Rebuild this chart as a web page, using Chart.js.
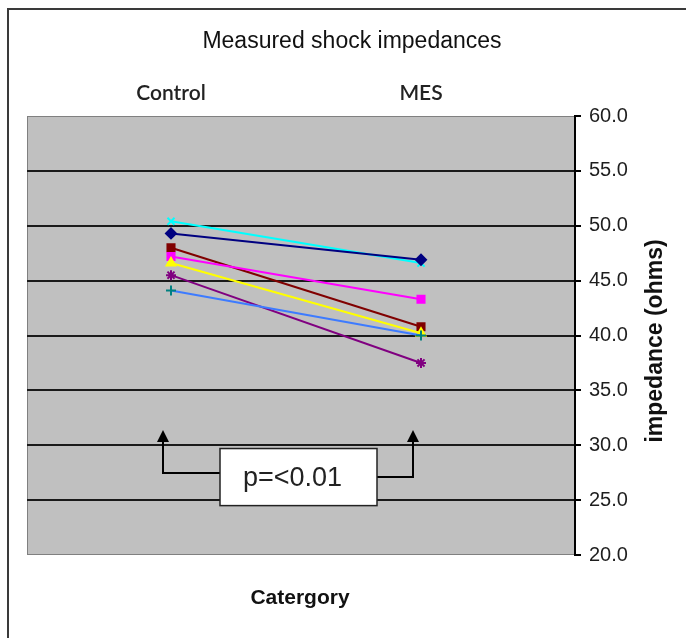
<!DOCTYPE html>
<html>
<head>
<meta charset="utf-8">
<script src="https://cdn.jsdelivr.net/npm/chart.js@4/dist/chart.umd.min.js"></script>
<style>
  html, body { margin: 0; padding: 0; background: #fff; overflow: hidden; }
  #wrap { position: relative; width: 686px; height: 638px; }
  #frame { position: absolute; left: 7px; top: 8px; width: 700px; height: 660px;
           border-left: 2px solid #3a3a3a; border-top: 2px solid #3a3a3a; }
  canvas { position: absolute; left: 0; top: 0; }
</style>
</head>
<body>
<div id="wrap">
  <div id="frame"></div>
  <canvas id="chart" width="686" height="638"></canvas>
</div>
<script>
// categories on the top axis
const categories = ["Control", "MES"];
const catPos = [0, 1];

// one pair of readings (Control, MES) per subject
const navyVals    = [49.3, 46.9];
const magentaVals = [47.2, 43.3];
const yellowVals  = [46.6, 40.2];
const cyanVals    = [50.4, 46.6];
const purpleVals  = [45.5, 37.5];
const maroonVals  = [48.0, 40.8];
const blueVals    = [44.1, 40.0];

// impedance axis
const yMin = 20, yMax = 60, yStep = 5;

// significance note, in axis units
const sigText = "p=<0.01";
const sigArrowX = [-0.03, 0.97];
const sigArrowTop = 31.4;
const sigElbowY = [27.5, 27.1];
const sigBoxX = [0.196, 0.824];
const sigBoxY = [29.7, 24.5];

function pts(vals) {
  return vals.map((v, i) => ({ x: catPos[i], y: v }));
}

function series(vals, line, marker, style, radius) {
  return {
    data: pts(vals),
    borderColor: line,
    borderWidth: 2,
    backgroundColor: marker,
    pointBorderColor: marker,
    pointBackgroundColor: marker,
    pointStyle: style,
    pointRadius: radius,
    pointBorderWidth: 2,
    tension: 0
  };
}

const datasets = [
  series(blueVals, "#3d7bff", "#008080", "cross", 5),
  series(purpleVals, "#800080", "#800080", "star", 5),
  series(yellowVals, "#ffff00", "#ffff00", "triangle", 5),
  series(magentaVals, "#ff00ff", "#ff00ff", "rect", 5),
  series(maroonVals, "#800000", "#800000", "rect", 5),
  series(navyVals, "#000080", "#000080", "rectRot", 5),
  series(cyanVals, "#00ffff", "#00ffff", "crossRot", 5)
];

// plot background, frame texts and the p-value note
const decor = {
  id: "decor",
  beforeDraw(chart) {
    const { ctx, chartArea: a } = chart;
    ctx.save();
    ctx.fillStyle = "#c0c0c0";
    ctx.fillRect(a.left, a.top, a.right - a.left, a.bottom - a.top);
    ctx.strokeStyle = "#808080";
    ctx.lineWidth = 1;
    ctx.strokeRect(a.left + 0.5, a.top + 0.5, a.right - a.left - 1, a.bottom - a.top - 1);
    ctx.restore();
  },
  afterDatasetsDraw(chart) {
    const { ctx } = chart;
    const xs = chart.scales.x, ys = chart.scales.y;
    ctx.save();

    // arrows
    ctx.strokeStyle = "#000";
    ctx.fillStyle = "#000";
    ctx.lineWidth = 2;
    const bx0 = xs.getPixelForValue(sigBoxX[0]);
    const bx1 = xs.getPixelForValue(sigBoxX[1]);
    const by0 = ys.getPixelForValue(sigBoxY[0]);
    const by1 = ys.getPixelForValue(sigBoxY[1]);
    sigArrowX.forEach((v, i) => {
      const ax = Math.round(xs.getPixelForValue(v));
      const tip = ys.getPixelForValue(sigArrowTop);
      const ey = Math.round(ys.getPixelForValue(sigElbowY[i]));
      ctx.beginPath();
      ctx.moveTo(i === 0 ? bx0 : bx1, ey);
      ctx.lineTo(ax, ey);
      ctx.lineTo(ax, tip + 8);
      ctx.stroke();
      ctx.beginPath();
      ctx.moveTo(ax, tip);
      ctx.lineTo(ax - 6, tip + 12);
      ctx.lineTo(ax + 6, tip + 12);
      ctx.closePath();
      ctx.fill();
    });

    // box
    ctx.fillStyle = "#fff";
    ctx.fillRect(bx0, by0, bx1 - bx0, by1 - by0);
    ctx.strokeStyle = "#222";
    ctx.lineWidth = 1.5;
    ctx.strokeRect(bx0, by0, bx1 - bx0, by1 - by0);
    ctx.fillStyle = "#222";
    ctx.font = "27px 'Liberation Sans', Arial, sans-serif";
    ctx.textAlign = "center";
    ctx.textBaseline = "middle";
    ctx.fillText(sigText, (bx0 + bx1) / 2 - 6, (by0 + by1) / 2 + 1);

    // titles
    ctx.fillStyle = "#111";
    ctx.font = "23px 'Liberation Sans', Arial, sans-serif";
    ctx.fillText("Measured shock impedances", 352, 42);
    ctx.font = "bold 21px 'Liberation Sans', Arial, sans-serif";
    ctx.fillText("Catergory", 300, 598);

    ctx.translate(656, 341);
    ctx.rotate(-Math.PI / 2);
    ctx.font = "bold 23px 'Liberation Sans', Arial, sans-serif";
    ctx.fillText("impedance (ohms)", 0, 0);
    ctx.restore();
  }
};

new Chart(document.getElementById("chart"), {
  type: "line",
  data: { datasets },
  options: {
    responsive: false,
    animation: false,
    devicePixelRatio: 1,
    layout: { padding: { left: 27, right: 11, top: 76, bottom: 83 } },
    plugins: { legend: { display: false }, tooltip: { enabled: false }, title: { display: false } },
    scales: {
      x: {
        type: "linear",
        position: "top",
        min: -0.576,
        max: 1.616,
        afterFit: (s) => { s.height = 40; },
        afterBuildTicks: (s) => { s.ticks = catPos.map(v => ({ value: v })); },
        grid: { display: false, drawTicks: false },
        border: { display: false },
        ticks: {
          padding: 10,
          maxRotation: 0,
          autoSkip: false,
          color: "#222",
          font: { family: "Lato, 'Open Sans', sans-serif", size: 21, weight: "600" },
          callback: (v) => categories[catPos.indexOf(v)] ?? ""
        }
      },
      y: {
        position: "right",
        min: yMin,
        max: yMax,
        afterFit: (s) => { s.width = 100; },
        grid: {
          color: (c) => (c.tick && (c.tick.value === yMin || c.tick.value === yMax)) ? "rgba(0,0,0,0)" : "#1a1a1a",
          lineWidth: 2,
          tickColor: "#000",
          tickLength: 6,
          drawOnChartArea: true
        },
        border: { display: true, color: "#000", width: 2 },
        ticks: {
          stepSize: yStep,
          padding: 8,
          color: "#1e1e1e",
          font: { family: "'Liberation Sans', Arial, sans-serif", size: 20 },
          callback: (v) => Number(v).toFixed(1)
        }
      }
    }
  },
  plugins: [decor]
});
</script>
</body>
</html>
